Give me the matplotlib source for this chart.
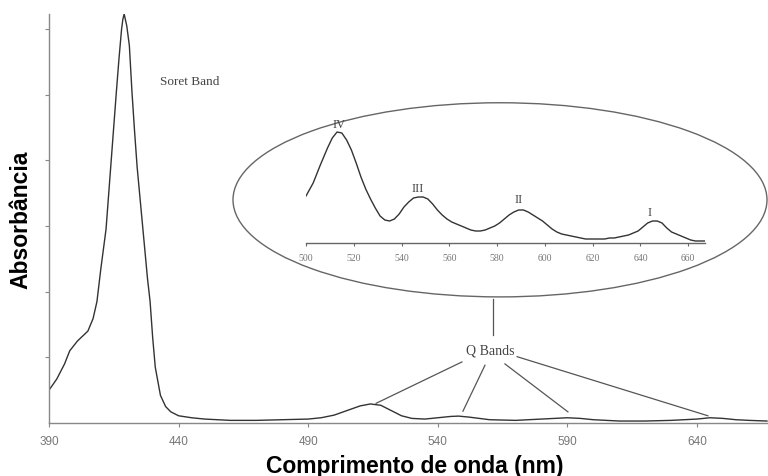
import matplotlib
matplotlib.use("Agg")
import matplotlib.pyplot as plt
from matplotlib.patches import Ellipse

# ---- data ----
wl = [390, 393, 396, 398, 401, 405, 407, 408.5, 410, 411, 412, 414, 416, 417, 418, 418.5,
      419, 420, 421, 422, 423, 424, 426, 428, 429, 430, 431, 433, 435, 437, 440, 445,
      450, 460, 470, 480, 490, 495, 500, 505, 510, 514, 518, 522, 526, 530, 535, 540,
      545, 548, 552, 556, 560, 570, 580, 590, 595, 600, 610, 620, 630, 640, 645, 650,
      655, 660, 667]
absorb = [0.5, 0.67, 0.9, 1.1, 1.25, 1.4, 1.59, 1.85, 2.35, 2.65, 2.95, 4.0, 5.05, 5.55, 6.0, 6.15,
          6.23, 6.05, 5.75, 5.05, 4.45, 3.9, 3.05, 2.2, 1.85, 1.3, 0.85, 0.42, 0.25, 0.17, 0.11, 0.08,
          0.06, 0.04, 0.04, 0.05, 0.06, 0.08, 0.12, 0.19, 0.26, 0.29, 0.27, 0.19, 0.11, 0.07, 0.06, 0.08,
          0.10, 0.105, 0.09, 0.07, 0.05, 0.04, 0.06, 0.08, 0.07, 0.05, 0.03, 0.03, 0.04, 0.06, 0.08, 0.07,
          0.05, 0.04, 0.03]

q_wl = [500, 503, 506, 509, 511, 513, 515, 517, 519, 521, 523, 525, 527, 529, 531, 533, 535,
        537, 539, 541, 543, 545, 547, 549, 551, 553, 555, 557, 559, 561, 563, 565, 567, 569,
        571, 573, 575, 577, 579, 581, 583, 585, 587, 589, 591, 593, 595, 597, 599, 601, 603,
        605, 607, 609, 611, 613, 615, 617, 619, 621, 623, 625, 627, 629, 631, 633, 635, 637,
        639, 641, 643, 645, 647, 649, 651, 653, 655, 657, 659, 661, 663, 665, 667]
q_abs = [47, 60, 78, 95, 105, 111, 110, 103, 93, 80, 66, 54, 44, 35, 27, 23, 22,
         24, 29, 36, 41, 45, 46, 46, 44, 39, 33, 28, 24, 21, 19, 17, 15, 13,
         12, 12, 13, 15, 17, 20, 24, 28, 31, 33, 33, 31, 28, 25, 22, 18, 14,
         11, 9, 8, 7, 6, 5, 4, 4, 4, 4, 4, 5, 5, 6, 7, 8, 10,
         12, 16, 20, 22, 22, 20, 15, 11, 9, 7, 5, 3, 2, 2, 2]

main_ticks = [390, 440, 490, 540, 590, 640]
inset_ticks = [500, 520, 540, 560, 580, 600, 620, 640, 660]
roman = ["IV", "III", "II", "I"]
roman_pos = [(513.8, 119), (546.8, 55), (589, 44), (644, 31)]

W, H = 768, 477
fig = plt.figure(figsize=(W / 100, H / 100), dpi=100)
fig.patch.set_facecolor("white")

ax = fig.add_axes([49 / W, 1 - 424 / H, (W - 49) / W, (424 - 15) / H])
ax.plot(wl, absorb, color="#333333", lw=1.0)
ax.set_xlim(390, 390 + (W - 49) / 2.592)
ax.set_ylim(0, 6.23)
for s in ["top", "right"]:
    ax.spines[s].set_visible(False)
for s in ["left", "bottom"]:
    ax.spines[s].set_color("#888888")
    ax.spines[s].set_linewidth(1.0)
ax.set_xticks(main_ticks)
ax.set_xticklabels([str(t) for t in main_ticks], fontsize=8.5, color="#777777",
                   family="Liberation Sans")
ax.set_yticks([1, 2, 3, 4, 5, 6])
ax.set_yticklabels([])
ax.tick_params(axis="both", length=3, width=0.8, color="#888888", pad=6)
ax.set_xlabel("Comprimento de onda (nm)", fontsize=16.5, fontweight="bold",
              family="Liberation Sans", labelpad=5)
ax.xaxis.set_label_coords(0.508, -0.075)
ax.set_ylabel("Absorbância", fontsize=16.5, fontweight="bold",
              family="Liberation Sans", labelpad=3)

ax.text(432.8, 5.21, "Soret Band", fontsize=9.5, family="Liberation Serif",
        color="#444444", va="center", ha="left")
ax.text(560.1, 1.11, "Q Bands", fontsize=10, family="Liberation Serif",
        color="#444444", va="center", ha="center")

lines = [((549.3, 0.93), (516.2, 0.30)),
         ((558.2, 0.88), (549.7, 0.18)),
         ((565.9, 0.90), (590.2, 0.17)),
         ((570.6, 1.01), (644.2, 0.11)),
         ((561.3, 1.89), (561.3, 1.34))]
for (x0, y0), (x1, y1) in lines:
    ax.plot([x0, x1], [y0, y1], color="#555555", lw=0.9, clip_on=False)

ell = Ellipse((390 + (500 - 49) / 2.592, (424 - 201) / 65.6),
              width=534 / 2.592, height=194 / 65.6,
              fill=False, edgecolor="#666666", lw=1.0, clip_on=False)
ax.add_patch(ell)

# inset
iax = fig.add_axes([306 / W, 1 - 244 / H, (705 - 306) / W, 130 / H])
iax.patch.set_alpha(0)
iax.plot(q_wl, q_abs, color="#333333", lw=1.0)
iax.set_xlim(500, 667)
iax.set_ylim(0, 130)
for s in ["top", "right", "left"]:
    iax.spines[s].set_visible(False)
iax.spines["bottom"].set_color("#666666")
iax.spines["bottom"].set_linewidth(1.0)
iax.set_yticks([])
iax.set_xticks(inset_ticks)
iax.set_xticklabels([str(t) for t in inset_ticks], fontsize=7, color="#777777",
                    family="Liberation Serif")
iax.tick_params(axis="x", length=2.5, width=0.8, color="#666666", pad=5)
for lab, (x, y) in zip(roman, roman_pos):
    iax.text(x, y, lab, fontsize=9, family="Liberation Serif", color="#444444",
             ha="center", va="center")

fig.savefig("out.png", dpi=100)
